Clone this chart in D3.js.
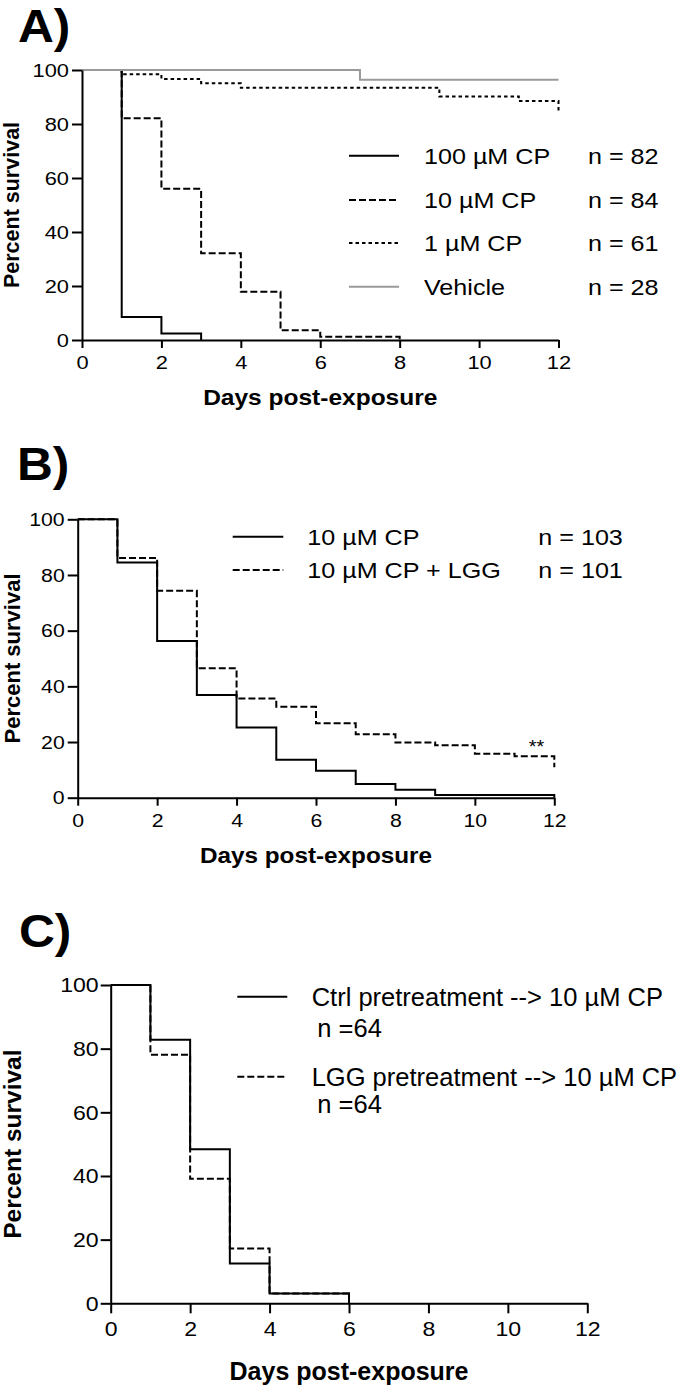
<!DOCTYPE html>
<html><head><meta charset="utf-8">
<script src="https://cdn.jsdelivr.net/npm/d3@7/dist/d3.min.js"></script>
<style>
body{margin:0;background:#fff}
svg{display:block}
text{font-family:"Liberation Sans",Arial,Helvetica,sans-serif;fill:#000}
</style></head>
<body><svg id="chart" width="680" height="1387"></svg>
<script>
// ---------- DATA ----------
const xTicks = [0, 2, 4, 6, 8, 10, 12];
const yTicks = [0, 20, 40, 60, 80, 100];

// Panel A
const aCP100Days = [0, 1, 2, 3];
const aCP100Surv = [100, 8.5, 2.4, 0];
const aCP10Days = [0, 1, 2, 3, 4, 5, 6, 8];
const aCP10Surv = [100, 82.1, 56.0, 32.1, 17.9, 3.6, 1.2, 0];
const aCP1Days = [0, 1, 2, 3, 4, 9, 11, 12];
const aCP1Surv = [100, 98.4, 96.7, 95.1, 93.4, 90.2, 88.5, 84.0];
const aVehDays = [0, 7, 12];
const aVehSurv = [100, 96.4, 96.4];
const aLabels = ["100 µM CP", "10 µM CP", "1 µM CP", "Vehicle"];
const aN = ["n = 82", "n = 84", "n = 61", "n = 28"];

// Panel B
const bCPDays = [0, 1, 2, 3, 4, 5, 6, 7, 8, 9, 12];
const bCPSurv = [100, 84.5, 56.3, 36.9, 25.2, 13.6, 9.7, 4.9, 2.9, 1.0, 0];
const bLGGDays = [0, 1, 2, 3, 4, 5, 6, 7, 8, 9, 10, 11, 12];
const bLGGSurv = [100, 86.1, 74.3, 46.5, 35.6, 32.7, 26.7, 22.8, 19.8, 18.8, 15.8, 14.9, 10.9];
const bLabels = ["10 µM CP", "10 µM CP + LGG"];
const bN = ["n = 103", "n = 101"];
const bSig = "**";

// Panel C
const cCtrlDays = [0, 1, 2, 3, 4, 6];
const cCtrlSurv = [100, 82.8, 48.4, 12.5, 3.1, 0];
const cLGGDays = [0, 1, 2, 3, 4, 6];
const cLGGSurv = [100, 78.1, 39.1, 17.2, 3.1, 0];
const cLabels = ["Ctrl pretreatment --> 10 µM CP", "LGG pretreatment --> 10 µM CP"];
const cN = ["n =64", "n =64"];

const xTitle = "Days post-exposure";
const yTitle = "Percent survival";

// ---------- STYLES ----------
const SOLID = null, DASH = "7,3", DOT = "3.5,3";
const GRAY = "#9a9a9a";

const svg = d3.select("#chart");

// text with horizontal stretch about its anchor
function addText(parent, x, y, str, size, sx, opts = {}) {
  const t = parent.append("text").attr("x", x).attr("y", y)
    .attr("font-size", size).text(str)
    .attr("transform", `translate(${x},${y}) scale(${sx},1) translate(${-x},${-y})`);
  if (opts.bold) t.attr("font-weight", "bold");
  if (opts.anchor) t.attr("text-anchor", opts.anchor);
  return t;
}

function panel(cfg) {
  const x = d3.scaleLinear().domain([0, 12]).range([cfg.left, cfg.right]);
  const y = d3.scaleLinear().domain([0, 100]).range([cfg.bottom, cfg.top]);
  const g = svg.append("g");

  // panel letter
  addText(g, cfg.letterX, cfg.letterY, cfg.letter, 46, 1.08, {bold: true});

  // survival step curves
  const line = d3.line().x(d => x(d[0])).y(d => y(d[1])).curve(d3.curveStepAfter);
  cfg.series.forEach(s => {
    const pts = s.days.map((d, i) => [d, s.surv[i]]);
    g.append("path").attr("d", line(pts)).attr("fill", "none")
      .attr("stroke", s.color || "#000").attr("stroke-width", 2)
      .attr("stroke-dasharray", s.dash);
  });

  // axes
  const xa = g.append("g").attr("transform", `translate(0,${cfg.bottom})`)
    .call(d3.axisBottom(x).tickValues(xTicks).tickSize(cfg.tick).tickSizeOuter(0).tickPadding(cfg.xPad));
  const ya = g.append("g").attr("transform", `translate(${cfg.left},0)`)
    .call(d3.axisLeft(y).tickValues(yTicks).tickSize(cfg.yTick).tickSizeOuter(0).tickPadding(cfg.yPad));
  [xa, ya].forEach(a => {
    a.select(".domain").attr("stroke", "#000").attr("stroke-width", 2);
    a.selectAll(".tick line").attr("stroke", "#000").attr("stroke-width", 2);
    a.selectAll(".tick text").attr("font-size", cfg.tickFont)
      .attr("font-family", '"Liberation Sans",Arial,sans-serif').attr("fill", "#000")
      .each(function () {
        const tx = +d3.select(this).attr("x") || 0;
        d3.select(this).attr("transform", `translate(${tx},0) scale(${cfg.tickSx},1) translate(${-tx},0)`);
      });
  });

  // axis titles
  addText(g, (cfg.left + cfg.right) / 2, cfg.xTitleY, xTitle, cfg.xTitleFont, cfg.xTitleSx, {bold: true, anchor: "middle"});
  g.append("text").attr("transform", `translate(${cfg.yTitleX},${(cfg.top + cfg.bottom) / 2}) rotate(-90)`)
    .attr("text-anchor", "middle").attr("font-size", cfg.yTitleFont).attr("font-weight", "bold").text(yTitle);

  // legend
  cfg.legend.forEach((l, i) => {
    const ly = cfg.legY[i];
    g.append("line").attr("x1", cfg.legX1).attr("x2", cfg.legX2).attr("y1", ly).attr("y2", ly)
      .attr("stroke", l.color || "#000").attr("stroke-width", 2).attr("stroke-dasharray", l.dash);
    addText(g, cfg.legTextX, ly + cfg.legBase, l.label, cfg.legFont, cfg.legSx);
    addText(g, cfg.legNX, cfg.legNY ? cfg.legNY[i] : ly + cfg.legBase, l.n, cfg.legFont, cfg.legSx);
  });
  return {x, y, g};
}

// Panel A
panel({
  letter: "A)", letterX: 18, letterY: 42,
  left: 82, right: 558.5, top: 70, bottom: 340,
  tick: 8, xPad: 7.5, yTick: 10, yPad: 3, tickFont: 19, tickSx: 1.15,
  xTitleY: 405, xTitleFont: 21.5, xTitleSx: 1.14, yTitleX: 19, yTitleFont: 21.5,
  series: [
    {days: aCP100Days, surv: aCP100Surv, dash: SOLID},
    {days: aCP10Days, surv: aCP10Surv, dash: DASH},
    {days: aCP1Days, surv: aCP1Surv, dash: DOT},
    {days: aVehDays, surv: aVehSurv, dash: SOLID, color: GRAY}
  ],
  legend: [
    {label: aLabels[0], n: aN[0], dash: SOLID},
    {label: aLabels[1], n: aN[1], dash: DASH},
    {label: aLabels[2], n: aN[2], dash: DOT},
    {label: aLabels[3], n: aN[3], dash: SOLID, color: GRAY}
  ],
  legY: [155.7, 200, 243, 286.7], legX1: 349, legX2: 399, legTextX: 424, legNX: 588,
  legFont: 21.5, legSx: 1.17, legBase: 8
});

// Panel B
const pB = panel({
  letter: "B)", letterX: 17, letterY: 480,
  left: 77.7, right: 554.3, top: 519.3, bottom: 797.7,
  tick: 8, xPad: 7.5, yTick: 10, yPad: 3, tickFont: 19, tickSx: 1.12,
  xTitleY: 863, xTitleFont: 22.5, xTitleSx: 1.08, yTitleX: 19.5, yTitleFont: 22,
  series: [
    {days: bLGGDays, surv: bLGGSurv, dash: DASH},
    {days: bCPDays, surv: bCPSurv, dash: SOLID}
  ],
  legend: [
    {label: bLabels[0], n: bN[0], dash: SOLID},
    {label: bLabels[1], n: bN[1], dash: DASH}
  ],
  legY: [536.7, 570], legX1: 232.7, legX2: 283.3, legTextX: 307.3, legNX: 538.3,
  legFont: 21.5, legSx: 1.17, legBase: 8
});
addText(pB.g, pB.x(11.55), pB.y(20.2) + 12, bSig, 18, 1.1, {anchor: "middle"});

// Panel C
panel({
  letter: "C)", letterX: 19, letterY: 947,
  left: 110.7, right: 587.3, top: 985, bottom: 1303.3,
  tick: 10, xPad: 8, yTick: 10, yPad: 2, tickFont: 21, tickSx: 1.1,
  xTitleY: 1380, xTitleFont: 25, xTitleSx: 1.0, yTitleX: 21, yTitleFont: 24.5,
  series: [
    {days: cLGGDays, surv: cLGGSurv, dash: DASH},
    {days: cCtrlDays, surv: cCtrlSurv, dash: SOLID}
  ],
  legend: [
    {label: cLabels[0], n: cN[0], dash: SOLID},
    {label: cLabels[1], n: cN[1], dash: DASH}
  ],
  legY: [996.7, 1076.7], legX1: 237.3, legX2: 287.3, legTextX: 311.7, legNX: 317.3,
  legNY: [1037.3, 1113.3],
  legFont: 25.5, legSx: 1.0, legBase: 9
});
</script></body></html>
